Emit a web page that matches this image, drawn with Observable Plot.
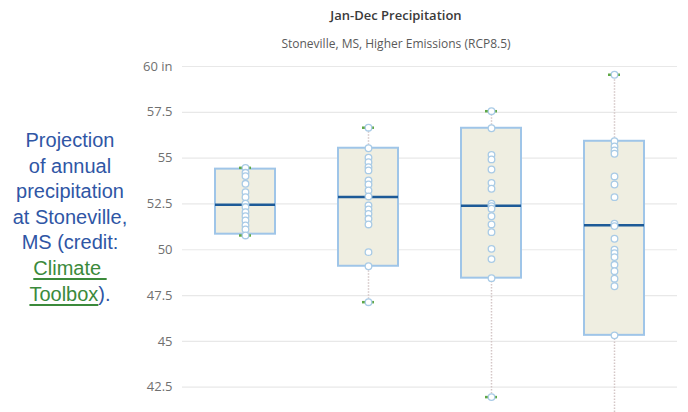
<!DOCTYPE html>
<html>
<head>
<meta charset="utf-8">
<script src="https://cdn.jsdelivr.net/npm/d3@7"></script>
<script src="https://cdn.jsdelivr.net/npm/@observablehq/plot@0.6"></script>
<style>
  html, body { margin: 0; padding: 0; background: #fff; }
  #wrap { position: relative; width: 688px; height: 412px; overflow: hidden; }
  #title { position: absolute; left: 196px; width: 400px; top: 6px; text-align: center;
    font: 600 13px "Open Sans", sans-serif; color: #3a3a3a; }
  #subtitle { position: absolute; left: 196px; width: 400px; top: 35px; text-align: center;
    font: 12px "Open Sans", sans-serif; color: #5a5a5a; }
  #side { position: absolute; left: 0; width: 140px; top: 128px; text-align: center;
    font: 20px "Liberation Sans", Arial, sans-serif; line-height: 25.6px; color: #2f56a5; }
  #side u { color: #3b8a3b; text-decoration-thickness: 1.5px; text-underline-offset: 3px; }
  svg { position: absolute; left: 0; top: 0; }
</style>
</head>
<body>
<div id="wrap">
  <div id="title">Jan-Dec Precipitation</div>
  <div id="subtitle">Stoneville, MS, Higher Emissions (RCP8.5)</div>
  <div id="side">Projection<br>of annual<br>precipitation<br>at Stoneville,<br>MS (credit:<br><u>Climate&nbsp;</u><br><u>Toolbox</u>).</div>
</div>
<script>
const periods = ["1971-2000", "2010-2039", "2040-2069", "2070-2099"];
const whiskerLow  = [50.78, 47.14, 41.96, 40.3];
const q1          = [50.85, 49.10, 48.45, 45.33];
const median      = [52.45, 52.88, 52.40, 51.34];
const q3          = [54.40, 55.54, 56.63, 55.92];
const whiskerHigh = [54.47, 56.66, 57.56, 59.55];

const points1 = [54.47, 54.2, 54.02, 53.6, 53.14, 52.87, 52.51, 52.33, 52.05, 51.83, 51.6, 51.33, 51.11, 50.78];
const points2 = [56.66, 55.54, 55.02, 54.78, 54.51, 54.33, 53.78, 53.56, 53.24, 52.91, 52.42, 52.2, 51.96, 51.69, 51.38, 49.87, 49.1, 47.14];
const points3 = [57.56, 56.63, 55.18, 54.93, 54.38, 53.65, 53.33, 52.51, 52.38, 52.24, 51.83, 51.38, 50.96, 50.05, 49.49, 48.45, 41.96];
const points4 = [59.55, 55.92, 55.64, 55.42, 55.24, 54.0, 53.56, 52.87, 51.42, 51.29, 50.6, 50.0, 49.81, 49.6, 49.18, 48.83, 48.42, 48.01, 45.33, 40.3];

const yTicks = [42.5, 45, 47.5, 50, 52.5, 55, 57.5, 60];

const stats = periods.map((p, i) => ({
  period: p, low: whiskerLow[i], q1: q1[i], median: median[i], q3: q3[i], high: whiskerHigh[i]
}));
const points = [points1, points2, points3, points4].flatMap((arr, i) =>
  arr.map(v => ({ period: periods[i], value: v })));
const ends = stats.flatMap(d => [{ period: d.period, value: d.low }, { period: d.period, value: d.high }]);

const chart = Plot.plot({
  width: 688,
  height: 412,
  marginLeft: 182,
  marginRight: 11,
  marginTop: 66,
  marginBottom: 0,
  style: { background: "transparent", overflow: "hidden" },
  x: { type: "band", domain: periods, paddingInner: 0.515, paddingOuter: 0.26, axis: null },
  y: { domain: [41.12, 60], ticks: yTicks },
  marks: [
    Plot.ruleY(yTicks, { stroke: "#e8e8e8", strokeWidth: 1.2 }),
    Plot.axisY(yTicks, {
      tickSize: 0, tickPadding: 10, label: null,
      tickFormat: d => d === 60 ? "60 in" : String(d),
      fill: "#707070", fontSize: 13, fontFamily: "Open Sans, sans-serif"
    }),
    Plot.ruleX(stats, { x: "period", y1: "low", y2: "q1", stroke: "#d4c6c6", strokeWidth: 1.5, strokeDasharray: "1.5,1.5", clip: true }),
    Plot.ruleX(stats, { x: "period", y1: "q3", y2: "high", stroke: "#d4c6c6", strokeWidth: 1.5, strokeDasharray: "1.5,1.5", clip: true }),
    Plot.barY(stats, { x: "period", y1: "q1", y2: "q3", fill: "#efeee1", stroke: "#9fc5e8", strokeWidth: 2 }),
    Plot.tickY(stats, { x: "period", y: "median", stroke: "#1d5a97", strokeWidth: 2.5 }),
    Plot.tickY(ends, { x: "period", y: "value", stroke: "#5fa845", strokeWidth: 2.5, insetLeft: 24, insetRight: 24, clip: true }),
    Plot.dot(points, { x: "period", y: "value", r: 3.3, fill: "white", stroke: "#a9cbe6", strokeWidth: 1.3, clip: true })
  ]
});
document.getElementById("wrap").prepend(chart);
</script>
</body>
</html>
